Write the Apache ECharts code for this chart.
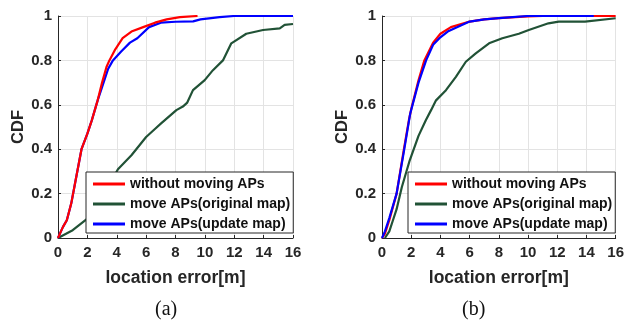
<!DOCTYPE html>
<html>
<head>
<meta charset="utf-8">
<script src="https://cdn.jsdelivr.net/npm/echarts@6/dist/echarts.min.js"></script>
<style>
  html, body { margin: 0; padding: 0; background: #fff; }
  #main { width: 627px; height: 322px; }
</style>
</head>
<body>
<div id="main"></div>
<script>
// 图例名称
var seriesNames = ['without moving APs', 'move APs(original map)', 'move APs(update map)'];
var panelLabels = ['(a)', '(b)'];
var xTicks = [0, 2, 4, 6, 8, 10, 12, 14, 16];
var yTicks = [0, 0.2, 0.4, 0.6, 0.8, 1];

// (a) 子图数据 [定位误差, CDF]
var redA = [[0,0],[0.2,0.03],[0.34,0.05],[0.6,0.08],[0.9,0.155],[1.2,0.26],[1.6,0.4],[2,0.47],[2.3,0.53],[2.7,0.62],[3,0.7],[3.3,0.77],[3.5,0.8],[3.9,0.85],[4.4,0.9],[5,0.93],[5.8,0.95],[6.6,0.97],[7.4,0.985],[8.3,0.995],[9.5,1]];
var greenA = [[0,0],[1,0.035],[2,0.087],[2.5,0.13],[3,0.18],[3.5,0.24],[4.08,0.31],[5,0.373],[6,0.455],[6.58,0.49],[7,0.515],[8.06,0.576],[8.5,0.592],[8.8,0.61],[9.19,0.666],[9.99,0.711],[10.55,0.756],[11.23,0.8],[11.8,0.877],[12.82,0.92],[13.96,0.937],[15.1,0.944],[15.43,0.96],[16,0.964]];
var blueA = [[0,0],[0.2,0.03],[0.34,0.05],[0.6,0.08],[0.9,0.155],[1.2,0.26],[1.6,0.4],[2,0.47],[2.3,0.53],[2.7,0.62],[3,0.68],[3.4,0.76],[3.74,0.8],[4.3,0.84],[4.9,0.88],[5.4,0.9],[6.2,0.95],[7,0.97],[8,0.974],[9.2,0.976],[9.7,0.985],[11,0.995],[12,1],[16,1]];

// (b) 子图数据
var redB = [[0,0],[0.2,0.02],[0.5,0.08],[1,0.2],[1.5,0.4],[1.84,0.53],[2,0.58],[2.5,0.71],[2.9,0.8],[3.5,0.88],[4,0.92],[4.72,0.95],[6,0.975],[7,0.985],[8,0.99],[10,0.998],[11,1],[16,1]];
var greenB = [[0.2,0],[0.5,0.03],[0.75,0.08],[1,0.13],[1.36,0.23],[1.9,0.35],[2.5,0.46],[3,0.53],[3.36,0.576],[3.7,0.62],[4.38,0.666],[5.06,0.726],[5.74,0.794],[6.42,0.832],[7.33,0.877],[8.24,0.9],[9.37,0.92],[10.05,0.937],[11.4,0.967],[12.1,0.975],[13.9,0.975],[16,0.99]];
var blueB = [[0,0],[0.2,0.03],[0.5,0.09],[1,0.2],[1.5,0.39],[1.93,0.56],[2.5,0.7],[3.02,0.8],[3.5,0.87],[3.93,0.9],[4.5,0.93],[5.17,0.95],[6,0.975],[7,0.985],[8,0.99],[10,1],[14.5,1]];

var colors = ['#ff0000', '#215236', '#0000ff'];
var fontFam = '"Liberation Sans", Arial, sans-serif';

var eChart = echarts.init(document.getElementById('main'));

function makeX(idx) {
    return {
        gridIndex: idx, type: 'value', min: 0, max: 16, interval: 2,
        name: 'location error[m]', nameLocation: 'middle', nameGap: 31,
        nameTextStyle: {fontFamily: fontFam, fontWeight: 'bold', fontSize: 17.5, color: '#262626'},
        axisLine: {show: true, lineStyle: {color: '#262626', width: 1}},
        axisTick: {show: true, inside: true, length: 3, lineStyle: {color: '#262626'}},
        axisLabel: {margin: 7, fontFamily: fontFam, fontWeight: 'bold', fontSize: 15, color: '#262626'},
        splitLine: {show: true, lineStyle: {color: '#e3e3e3', width: 1}}
    };
}
function makeY(idx) {
    return {
        gridIndex: idx, type: 'value', min: 0, max: 1, interval: 0.2,
        name: 'CDF', nameLocation: 'middle', nameGap: 31,
        nameTextStyle: {fontFamily: fontFam, fontWeight: 'bold', fontSize: 16.5, color: '#262626'},
        axisLine: {show: true, lineStyle: {color: '#262626', width: 1}},
        axisTick: {show: true, inside: true, length: 3, lineStyle: {color: '#262626'}},
        axisLabel: {margin: 6, fontFamily: fontFam, fontWeight: 'bold', fontSize: 15, color: '#262626'},
        splitLine: {show: true, lineStyle: {color: '#e3e3e3', width: 1}}
    };
}
function makeLegend(left) {
    return {
        left: left, top: 172, orient: 'vertical',
        icon: 'rect', itemWidth: 32, itemHeight: 3, itemGap: 6,
        padding: [5, 3, 2, 7],
        backgroundColor: '#fff', borderColor: '#262626', borderWidth: 1,
        textStyle: {fontFamily: fontFam, fontWeight: 'bold', fontSize: 14, lineHeight: 14, color: '#111'},
        data: seriesNames
    };
}
function makeSeries(name, data, color, idx) {
    return {
        name: name, type: 'line', data: data, xAxisIndex: idx, yAxisIndex: idx,
        showSymbol: false, symbol: 'none', smooth: false,
        lineStyle: {color: color, width: 2.2}, itemStyle: {color: color},
        animation: false
    };
}

var option = {
    animation: false,
    color: colors,
    grid: [
        {left: 58, top: 16, width: 235, height: 222},
        {left: 382, top: 16, width: 235, height: 222}
    ],
    xAxis: [makeX(0), makeX(1)],
    yAxis: [makeY(0), makeY(1)],
    legend: [makeLegend(86), makeLegend(408)],
    series: [
        makeSeries(seriesNames[1], greenA, colors[1], 0),
        makeSeries(seriesNames[2], blueA, colors[2], 0),
        makeSeries(seriesNames[0], redA, colors[0], 0),
        makeSeries(seriesNames[1], greenB, colors[1], 1),
        makeSeries(seriesNames[0], redB, colors[0], 1),
        makeSeries(seriesNames[2], blueB, colors[2], 1)
    ],
    graphic: [
        {type: 'text', left: 155, top: 300, style: {text: panelLabels[0], font: '20px "Liberation Serif", serif', fill: '#111'}},
        {type: 'text', left: 462, top: 300, style: {text: panelLabels[1], font: '20px "Liberation Serif", serif', fill: '#111'}}
    ]
};

eChart.setOption(option, true);
</script>
</body>
</html>
